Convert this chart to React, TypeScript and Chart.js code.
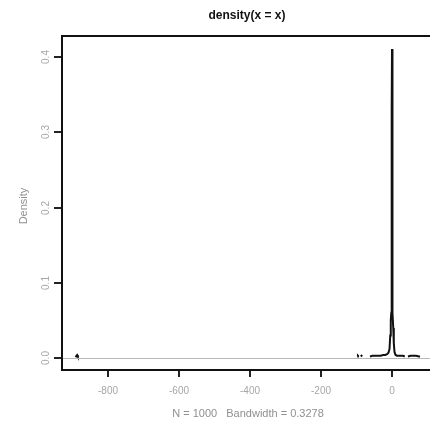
import { useEffect, useRef } from "react";
import { Chart, registerables } from "chart.js";

Chart.register(...registerables);

// Density estimate samples (x positions and density values; null = zero / hidden under zero line)
const xValues = [
  -893, -891, -889, -887, -885, -883, -881,
  -100, -98, -96, -94, -92,
  -90, -88, -86, -84, -82,
  -64, -62, -55, -48, -40, -32, -25, -19, -14, -10, -7, -5, -3.5, -2, -1.2, -0.6, 0,
  0.6, 1.2, 2, 3.5, 5, 7, 10, 14, 19, 25, 31, 36, 38,
  43, 45, 52, 60, 68, 76, 79, 81,
];
const densityValues = [
  null, 0.001, 0.003, 0.004, 0.002, 0.001, null,
  null, 0.002, 0.003, 0.002, null,
  null, 0.002, 0.003, 0.002, null,
  null, 0.002, 0.003, 0.003, 0.003, 0.003, 0.004, 0.004, 0.005, 0.007, 0.012, 0.03, 0.05, 0.06, 0.2, 0.33, 0.411,
  0.33, 0.2, 0.06, 0.04, 0.02, 0.008, 0.004, 0.003, 0.003, 0.003, 0.003, 0.002, null,
  null, 0.002, 0.003, 0.003, 0.003, 0.002, 0.002, null,
];

const xTicks = [-800, -600, -400, -200, 0];
const xTickLabels = ["-800", "-600", "-400", "-200", "0"];
const yTicks = [0, 0.1, 0.2, 0.3, 0.4];
const yTickLabels = ["0.0", "0.1", "0.2", "0.3", "0.4"];
const titleText = "density(x = x)";
const xAxisLabel = "N = 1000   Bandwidth = 0.3278";
const yAxisLabel = "Density";

const X_MIN = -929.6;
const X_MAX = 107;
const Y_MIN = -0.016;
const Y_MAX = 0.4283;

const FONT = "'Liberation Sans', Arial, sans-serif";

const rAxesPlugin = {
  id: "rAxes",
  afterDatasetsDraw(chart: any) {
    const { ctx, chartArea, scales } = chart;
    const ys = scales.y;
    ctx.save();
    const y0 = ys.getPixelForValue(0);
    ctx.strokeStyle = "#b8b8b8";
    ctx.lineWidth = 1;
    ctx.beginPath();
    ctx.moveTo(chartArea.left, Math.round(y0) + 0.5);
    ctx.lineTo(chartArea.right, Math.round(y0) + 0.5);
    ctx.stroke();
    ctx.restore();
  },
  afterDraw(chart: any) {
    const { ctx, chartArea, scales } = chart;
    const xs = scales.x;
    const ys = scales.y;
    const { left, top, right, bottom } = chartArea;
    ctx.save();
    ctx.strokeStyle = "#111";
    ctx.lineWidth = 2;
    ctx.beginPath();
    ctx.moveTo(right + 5, top);
    ctx.lineTo(left, top);
    ctx.lineTo(left, bottom);
    ctx.lineTo(right + 5, bottom);
    ctx.stroke();

    ctx.lineWidth = 2;
    ctx.strokeStyle = "#222";
    ctx.fillStyle = "#a6a6a6";
    ctx.font = `10px ${FONT}`;
    ctx.textAlign = "center";
    ctx.textBaseline = "middle";
    xTicks.forEach((v, i) => {
      const px = Math.round(xs.getPixelForValue(v));
      ctx.beginPath();
      ctx.moveTo(px, bottom + 1);
      ctx.lineTo(px, bottom + 7);
      ctx.stroke();
      ctx.fillText(xTickLabels[i], px, bottom + 21);
    });

    yTicks.forEach((v, i) => {
      const py = Math.round(ys.getPixelForValue(v));
      ctx.beginPath();
      ctx.moveTo(left - 1, py);
      ctx.lineTo(left - 8, py);
      ctx.stroke();
      ctx.save();
      ctx.translate(left - 16, py);
      ctx.rotate(-Math.PI / 2);
      ctx.fillText(yTickLabels[i], 0, 0);
      ctx.restore();
    });

    ctx.fillStyle = "#111";
    ctx.font = `bold 12px ${FONT}`;
    ctx.textAlign = "center";
    ctx.fillText(titleText, 247, 16);

    ctx.fillStyle = "#909090";
    ctx.font = `11px ${FONT}`;
    ctx.fillText(xAxisLabel, 248, 414);

    ctx.save();
    ctx.translate(24, 206);
    ctx.rotate(-Math.PI / 2);
    ctx.fillText(yAxisLabel, 0, 0);
    ctx.restore();

    ctx.restore();
  },
};

export default function App() {
  const canvasRef = useRef<HTMLCanvasElement | null>(null);

  useEffect(() => {
    const canvas = canvasRef.current;
    if (!canvas) return;
    const points = xValues.map((x, i) => ({ x, y: densityValues[i] }));
    const chart = new Chart(canvas, {
      type: "line",
      data: {
        datasets: [
          {
            data: points as any,
            borderColor: "#111",
            borderWidth: 2,
            pointRadius: 0,
            tension: 0,
            spanGaps: false,
            fill: false,
          },
        ],
      },
      options: {
        animation: false,
        responsive: false,
        maintainAspectRatio: false,
        devicePixelRatio: 1,
        layout: { padding: { left: 62, top: 36, right: 0, bottom: 55 } },
        plugins: {
          legend: { display: false },
          tooltip: { enabled: false },
          title: { display: false },
        },
        scales: {
          x: { type: "linear", min: X_MIN, max: X_MAX, display: false },
          y: { type: "linear", min: Y_MIN, max: Y_MAX, display: false },
        },
      },
      plugins: [rAxesPlugin],
    });
    return () => chart.destroy();
  }, []);

  return (
    <div style={{ position: "absolute", left: 0, top: 0, width: 430, height: 425, background: "#fff" }}>
      <canvas ref={canvasRef} width={430} height={425} style={{ width: 430, height: 425, display: "block" }} />
    </div>
  );
}
